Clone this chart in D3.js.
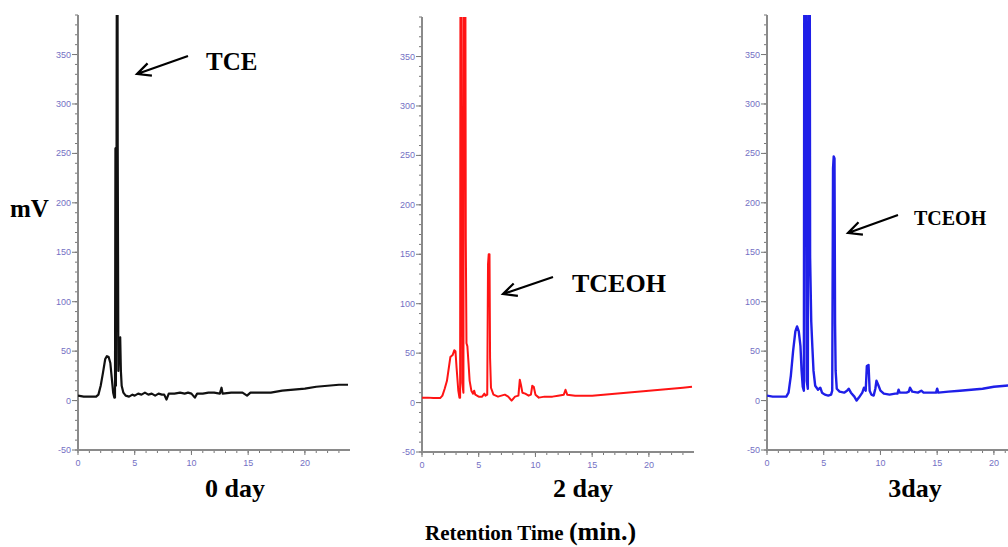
<!DOCTYPE html>
<html>
<head>
<meta charset="utf-8">
<script src="https://cdn.jsdelivr.net/npm/d3@7"></script>
<style>
  body { margin: 0; background: #fff; }
  svg { display: block; }
</style>
</head>
<body>
<svg id="chart"></svg>
<script>
const width = 1008, height = 547;

// axis ticks (min / mV)
const xMajor = [0, 5, 10, 15, 20];
const yMajor = [-50, 0, 50, 100, 150, 200, 250, 300, 350];

// chromatogram traces: [time (min), signal (mV)]
const day0Trace = [
  [0, 5], [0.5, 4], [1.0, 4], [1.6, 4], [1.8, 6], [2.0, 15], [2.2, 28], [2.4, 42], [2.55, 45], [2.7, 44],
  [2.85, 38], [3.0, 20], [3.1, 8], [3.2, 3], [3.26, 3], [3.3, 255], [3.34, 15], [3.4, 258], [3.44, 600],
  [3.47, 600], [3.5, 258], [3.56, 30], [3.62, 62], [3.72, 64], [3.78, 30], [3.85, 15], [4.0, 8], [4.2, 5],
  [4.5, 4], [4.8, 6], [5.0, 5], [5.3, 7], [5.6, 6], [5.9, 8], [6.2, 6], [6.5, 7], [6.8, 5], [7.1, 7],
  [7.4, 6], [7.6, 6], [7.8, 1], [8.0, 7], [8.5, 7], [9.0, 8], [9.4, 7], [9.7, 8], [10.0, 7], [10.3, 3],
  [10.5, 7], [11.0, 7], [11.5, 8], [12.0, 8], [12.5, 7], [12.65, 13], [12.75, 7], [13.5, 8], [14.5, 8],
  [14.9, 5], [15.2, 8], [16, 8], [17, 8], [18, 10], [19, 11], [20, 12], [21, 14], [22, 15], [23, 16], [23.8, 16]
];
const day2Trace = [
  [0, 5], [0.5, 5], [1.0, 4.5], [1.6, 4.5], [1.8, 7], [2.0, 14], [2.2, 22], [2.4, 38], [2.5, 46], [2.7, 48],
  [2.85, 53], [2.95, 52], [3.05, 35], [3.2, 12], [3.3, 5], [3.36, 5], [3.4, 600], [3.46, 600], [3.55, 20],
  [3.65, 10], [3.72, 600], [3.8, 600], [3.86, 165], [3.92, 60], [4.0, 57], [4.1, 40], [4.2, 22], [4.35, 12],
  [4.5, 9], [4.6, 12], [4.7, 8], [5.0, 6], [5.3, 6], [5.5, 9], [5.6, 7], [5.75, 8], [5.82, 140], [5.88, 150],
  [5.95, 150], [6.0, 45], [6.08, 15], [6.3, 8], [6.7, 6], [7.0, 7], [7.3, 8], [7.6, 6], [7.9, 2], [8.2, 6],
  [8.5, 7], [8.62, 23], [8.72, 18], [8.85, 10], [9.1, 9], [9.4, 7], [9.6, 8], [9.72, 17], [9.85, 16],
  [10.0, 8], [10.3, 5], [10.8, 6], [11.5, 6], [12.0, 7], [12.5, 8], [12.65, 13], [12.8, 8], [13.5, 7],
  [14.5, 7], [15, 7], [16, 8], [17, 9], [18, 10], [19, 11], [20, 12], [21, 13], [22, 14], [23, 15], [23.8, 16]
];
const day3Trace = [
  [0, 5], [0.5, 4], [1.0, 4], [1.7, 4], [1.9, 8], [2.1, 25], [2.3, 50], [2.5, 70], [2.65, 75], [2.8, 70],
  [2.95, 55], [3.05, 30], [3.15, 14], [3.25, 10], [3.3, 600], [3.4, 600], [3.5, 20], [3.6, 12], [3.68, 600],
  [3.75, 600], [3.8, 145], [3.9, 80], [4.0, 54], [4.1, 30], [4.25, 15], [4.5, 11], [4.7, 13], [4.85, 8],
  [5.1, 6], [5.4, 5], [5.65, 6], [5.75, 10], [5.82, 235], [5.88, 247], [5.95, 245], [6.0, 78], [6.05, 30],
  [6.15, 12], [6.4, 9], [6.8, 8], [7.05, 10], [7.2, 12], [7.4, 8], [7.7, 4], [7.9, 0], [8.1, 3], [8.4, 8],
  [8.55, 13], [8.7, 10], [8.8, 35], [8.95, 36], [9.05, 10], [9.2, 6], [9.4, 5], [9.55, 12], [9.65, 20],
  [9.8, 16], [10.0, 10], [10.3, 7], [10.8, 6], [11.3, 7], [11.5, 7], [11.6, 11], [11.7, 8], [12.3, 8],
  [12.5, 9], [12.6, 13], [12.8, 9], [13.3, 8], [13.6, 10], [13.8, 8], [14.5, 8], [14.9, 8], [15.0, 12],
  [15.1, 8], [16, 9], [17, 10], [18, 11], [19, 12], [20, 14], [21, 15], [22, 16], [23, 17], [23.8, 18]
];

const dayLabels = ["0 day", "2 day", "3day"];
const traceColors = ["#111111", "#ff1414", "#1f1fe8"];
const traces = [day0Trace, day2Trace, day3Trace];

const svg = d3.select("#chart").attr("width", width).attr("height", height);

const panels = [
  { left: 78, shift: 0, labelX: 235, label: "TCE", lx: 206, ly: 70, fs: 25, arrow: [188, 56, 137, 74], lw: 2.2 },
  { left: 422, shift: 2, labelX: 583, label: "TCEOH", lx: 572, ly: 292, fs: 26, arrow: [553, 277, 503, 294], lw: 2 },
  { left: 767, shift: 0, labelX: 915, label: "TCEOH", lx: 914, ly: 225, fs: 20, arrow: [898, 215, 848, 233], lw: 2.4 }
];

panels.forEach((p, i) => {
  const x = d3.scaleLinear().domain([0, 23.8]).range([p.left, p.left + 270]);
  const y = d3.scaleLinear().domain([-50, 390]).range([450 + p.shift, 15 + p.shift]);
  const g = svg.append("g");

  g.append("clipPath").attr("id", "clip" + i)
    .append("rect")
    .attr("x", p.left).attr("y", y(390))
    .attr("width", 272).attr("height", y(-50) - y(390));

  // minor ticks
  g.selectAll(".ymin").data(d3.range(-50, 391, 10)).join("line")
    .attr("x1", p.left - 3).attr("x2", p.left)
    .attr("y1", d => y(d)).attr("y2", d => y(d))
    .attr("stroke", "#777").attr("stroke-width", 1);
  g.selectAll(".xmin").data(d3.range(0, 24, 1)).join("line")
    .attr("x1", d => x(d)).attr("x2", d => x(d))
    .attr("y1", y(-50)).attr("y2", y(-50) + 3)
    .attr("stroke", "#777").attr("stroke-width", 1);

  // major ticks
  g.selectAll(".ymaj").data(yMajor).join("line")
    .attr("x1", p.left - 6).attr("x2", p.left)
    .attr("y1", d => y(d)).attr("y2", d => y(d))
    .attr("stroke", "#777").attr("stroke-width", 1);
  g.selectAll(".xmaj").data(xMajor).join("line")
    .attr("x1", d => x(d)).attr("x2", d => x(d))
    .attr("y1", y(-50)).attr("y2", y(-50) + 5)
    .attr("stroke", "#777").attr("stroke-width", 1);

  // axis lines
  g.append("line").attr("x1", p.left).attr("x2", p.left)
    .attr("y1", y(390)).attr("y2", y(-50))
    .attr("stroke", "#8a8a8a").attr("stroke-width", 2);
  g.append("line").attr("x1", p.left).attr("x2", x(23.8) + 2)
    .attr("y1", y(-50)).attr("y2", y(-50))
    .attr("stroke", "#8a8a8a").attr("stroke-width", 2);

  g.selectAll(".ylab").data(yMajor).join("text")
    .attr("x", p.left - 7).attr("y", d => y(d) + 3)
    .attr("text-anchor", "end")
    .attr("font-family", "Liberation Sans, Arial, sans-serif")
    .attr("font-size", 9).attr("fill", "#7470c4")
    .text(d => d);
  g.selectAll(".xlab").data(xMajor).join("text")
    .attr("x", d => x(d)).attr("y", y(-50) + 16)
    .attr("text-anchor", "middle")
    .attr("font-family", "Liberation Sans, Arial, sans-serif")
    .attr("font-size", 9).attr("fill", "#7470c4")
    .text(d => d);

  const line = d3.line().x(d => x(d[0])).y(d => y(d[1]));
  g.append("path")
    .datum(traces[i])
    .attr("clip-path", `url(#clip${i})`)
    .attr("d", line)
    .attr("fill", "none")
    .attr("stroke", traceColors[i])
    .attr("stroke-width", p.lw)
    .attr("stroke-linejoin", "round");

  g.append("text")
    .attr("x", p.labelX).attr("y", 497)
    .attr("text-anchor", "middle")
    .attr("font-family", "Liberation Serif, Times New Roman, serif")
    .attr("font-weight", "bold").attr("font-size", 26)
    .text(dayLabels[i]);

  // peak annotation with open arrow
  const [x1, y1, x2, y2] = p.arrow;
  const ang = Math.atan2(y1 - y2, x1 - x2), L = 15, spread = 0.45;
  g.append("path")
    .attr("d", `M${x1},${y1}L${x2},${y2}` +
      `M${x2 + L * Math.cos(ang - spread)},${y2 + L * Math.sin(ang - spread)}L${x2},${y2}` +
      `L${x2 + L * Math.cos(ang + spread)},${y2 + L * Math.sin(ang + spread)}`)
    .attr("fill", "none").attr("stroke", "#000").attr("stroke-width", 2.2);
  g.append("text")
    .attr("x", p.lx).attr("y", p.ly)
    .attr("font-family", "Liberation Serif, Times New Roman, serif")
    .attr("font-weight", "bold").attr("font-size", p.fs)
    .text(p.label);
});

svg.append("text")
  .attr("x", 10).attr("y", 217)
  .attr("font-family", "Liberation Serif, Times New Roman, serif")
  .attr("font-weight", "bold").attr("font-size", 25)
  .text("mV");

const xt = svg.append("text")
  .attr("x", 425).attr("y", 540)
  .attr("font-family", "Liberation Serif, Times New Roman, serif")
  .attr("font-weight", "bold");
xt.append("tspan").attr("font-size", 21).text("Retention Time ");
xt.append("tspan").attr("font-size", 26).text("(min.)");
</script>
</body>
</html>
